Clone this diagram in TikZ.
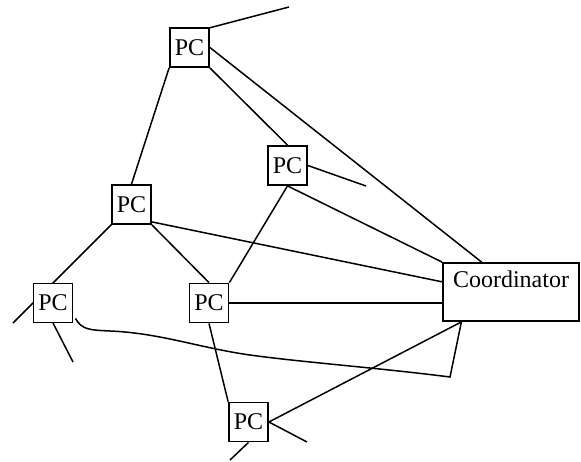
\documentclass[tikz,border=0pt]{standalone}
\usepackage{fontspec}
\setmainfont{Liberation Serif}
\usetikzlibrary{calc}
\begin{document}
\begin{tikzpicture}[x=1pt,y=-1pt,
  wire/.style={line width=1.5pt},
  pcbox/.style={draw,line width=1.8pt,fill=white,minimum width=39pt,minimum height=39pt,
    inner sep=0pt,font=\fontsize{24}{28}\selectfont},
  coordbox/.style={draw,line width=1.8pt,fill=white,minimum width=136pt,inner sep=0pt,
    text height=24pt,text depth=34pt,font=\fontsize{24}{28}\selectfont}]
\useasboundingbox (0,0) rectangle (581,461);

% free ends of the open links
\coordinate (eA) at (289,7);
\coordinate (eB) at (366,186);
\coordinate (eD1) at (13,323);
\coordinate (eD2) at (73,362);
\coordinate (eF1) at (307,442);
\coordinate (eF2) at (230,460);
\coordinate (bend) at (450,377);

% links drawn first so the boxes cover them
\draw[wire] (189.5,47.5) ++(19.5,-19.5) -- (eA);
\draw[wire] (131.5,204.5) ++(-19.5,19.5) -- (eD1);
\draw[wire] (53,303) ++(0,20) -- (eD2);

\node[pcbox] (pcA) at (189.5,47.5) {PC};
\node[pcbox] (pcB) at (287.5,165.5) {PC};
\node[pcbox] (pcC) at (131.5,204.5) {PC};
\node[pcbox] (pcD) at (53,303) {PC};
\node[pcbox] (pcE) at (209,303) {PC};
\node[pcbox] (pcF) at (248.5,422) {PC};
\node[coordbox] (coord) at (511,292) {Coordinator};

% attachment points on the coordinator
\coordinate (cTop) at ($(coord.north west)!0.287!(coord.north east)$);
\coordinate (cLeft) at ($(coord.north west)!0.33!(coord.south west)$);
\coordinate (cBot) at ($(coord.south west)!0.14!(coord.south east)$);

\draw[wire] (pcA.east) -- (cTop);
\draw[wire] (pcA.south east) -- (pcB.north);
\draw[wire] (pcA.south west) -- (pcC.north);
\draw[wire] (pcB.east) -- (eB);
\draw[wire] (pcB.south) -- (coord.north west);
\draw[wire] (pcB.south) -- (pcE.north east);
\draw[wire] ($(pcC.south east)+(0,-3)$) -- (cLeft);
\draw[wire] (pcC.south east) -- (pcE.north);
\draw[wire] (pcE.east) -- (pcE.east -| coord.west);
\draw[wire] (pcE.south) -- (pcF.north west);
\draw[wire] (pcF.east) -- (cBot);
\draw[wire] (pcF.east) -- (eF1);
\draw[wire] (pcF.south) -- (eF2);

% long cable from the left PC round to the coordinator
\draw[wire] ($(pcD.south east)+(2,-5)$)
  .. controls (82,330) and (90,330) .. (110,331)
  .. controls (160,333) and (200,348) .. (250,355)
  .. controls (300,362) and (380,368) .. (bend)
  -- (cBot);
\end{tikzpicture}
\end{document}
